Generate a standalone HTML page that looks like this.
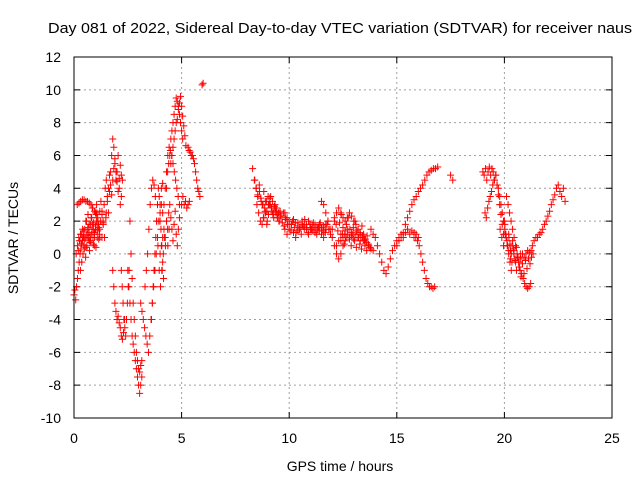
<!DOCTYPE html>
<html><head><meta charset="utf-8">
<style>
html,body{margin:0;padding:0;background:#fff;}
svg{display:block;font-family:"Liberation Sans",sans-serif;}
</style></head>
<body>
<svg id="chart" width="640" height="480" viewBox="0 0 640 480" xmlns="http://www.w3.org/2000/svg">
<rect x="0" y="0" width="640" height="480" fill="#fff"/>
<text x="340" y="33" font-size="14.5" text-anchor="middle" textLength="584" lengthAdjust="spacingAndGlyphs" fill="#000">Day 081 of 2022, Sidereal Day-to-day VTEC variation (SDTVAR) for receiver naus</text>
<text x="340" y="471" font-size="14" text-anchor="middle" fill="#000">GPS time / hours</text>
<text x="18" y="238" font-size="14" text-anchor="middle" fill="#000" transform="rotate(-90 18 238)">SDTVAR / TECUs</text>
<g id="grid"></g>
<g id="ticks"></g>
<g id="marks"></g>
<rect x="74" y="57" width="538" height="361" fill="none" stroke="#000" stroke-width="1"/>
</svg>
<script>
const xTicks=[0,5,10,15,20,25];
const yTicks=[-10,-8,-6,-4,-2,0,2,4,6,8,10,12];
const trackStart=[0.0,0.15,0.1,0.3,1.3,1.8,2.5,2.6,3.1,3.3,4.3,4.0,4.0,5.0,5.3,5.95,8.3,8.5,9.8,9.8,11.5,12.0,12.2,13.8,15.0,15.8,17.5,19.0,19.1,20.1,19.8,21.3,
 0.2,0.5,1.5,4.1,4.5,8.4,8.8,10.0,12.1,12.4,19.6,20.0,2.2,3.6];
const trackStep=[0.04,0.08,0.06,0.06,0.05,0.05,0.05,0.05,0.06,0.06,0.05,0.06,0.06,0.06,0.05,0.05,0.08,0.08,0.1,0.1,0.1,0.1,0.1,0.1,0.1,0.08,0.1,0.06,0.06,0.07,0.08,0.08,
 0.05,0.05,0.05,0.05,0.05,0.07,0.08,0.08,0.08,0.08,0.06,0.07,0.04,0.04];
const trackValues=[
[-2.5,-2.2,-2.8,-2.0,-1.5,-1.0,-0.5,0,0.3,0.6,0.8,1.0],
[3.0,3.1,3.2,3.3,3.3,3.2,3.2,3.1,3.0,2.8,2.6,2.4,2.0,1.5],
[0,0.5,1,0.8,1.2,1.5,0.5,1,2,1.5,0.8,1.8,2.2,1.0,0.5,1.5,2.5,1.8,1.2,2.0,2.6,1.8,1.0,2.2],
[-1,-0.5,0,0.3,-0.2,0.5,1,0.2,0.8,1.5,0.6,1.2,0.4,1,1.8,1.0],
[1,2,3,4,4.5,3.5,2.5,3.8,5,6,7,6.5,5.5,4.5,5,6,4,3,3.5,4.5],
[-1,-2,-3,-3.5,-4,-3.8,-4.2,-4.5,-5,-5.2,-4.8,-4],
[-1,-2,-3,-4,-5,-5.5,-6,-6.5,-7,-7.5,-8,-8.5,-8,-7.5],
[2,0,-1.5,-3,-4,-5,-6,-6.5,-7,-7.2,-6.8,-6.5],
[-3,-3.5,-4,-4.5,-5,-5.5,-6,-5,-4,-3,-2,-1,0,1,2,3,4,4.3],
[-2,-1,0,1.5,3,4,4.5,4.2,3.5,2,0.5,-1,-2,-1],
[4,5,5.5,6,7,7.5,8,8.5,9,9.5,9.3,9,8.5,8,7.5,7],
[2,3,2.5,3,4,5,6,6.5,6.3,6,5.5,5,4.5,4,3.5,3],
[0,0.5,1,1.5,1,2,0.5,1.5],
[3,3.5,3,3.2,2.8,3,3.2],
[6.5,6.3,6.2,6,6,5.8,5.5,5,4.5,4,3.8,3.5],
[10.3,10.4],
[5.2,4.5,4,3.5,3.8,3.2,3.0,2.8,3.2,3.5,3,2.8,2.5,3,2.8,2.5,2.6,2.3,2.5,2.2],
[3,2.5,2,1.8,2.2,2.5,2,3,3.5,3.2,2.8,2.5,2.2,2],
[2.5,2.2,2,1.8,2.1,1.9,1.7,1.6,1.8,1.5,1.8,2,1.6,1.4,1.7,1.5,1.8,1.6,1.4,1.8,2],
[1.5,1.2,1.5,1.8,1.3,1.0,1.4,1.6,2.0,1.7,1.5,1.2,1.5,1.8,1.3,1.6,1.4,1.2,1.0,1.5],
[3.2,3.0,2.5,2.0,1.5,1.0,0.5,0,-0.3,0,0.5,0.8],
[1.5,2,2.5,2.8,2.5,2.2,2.0,2.2,2.5,2.3,2.0,1.8,1.5,1.2,1.0,0.8],
[0.5,0.8,1.2,1.0,1.4,1.2,1.0,1.3,0.9,1.2,1.0,0.8,1.1,0.9,0.7,0.5,0.3,0.2],
[1.5,1.2,1.0,0.5,0,-0.5,-1.0,-1.2,-0.8,-0.3,0.2,0.5,0.8,1.0,1.2,1.0,1.3,1.5,1.2,1.4,1.3,1.2,1.0],
[0.5,0.8,1.0,1.3,1.8,2.2,2.6,3.0,3.3,3.5,3.8,4.0,4.2,4.5,4.8,5.0,5.1,5.2,5.2,5.3],
[1.0,1.0,0.8,0.5,0,-0.5,-1.0,-1.5,-1.8,-2.0,-2.0,-2.1,-2.0],
[4.8,4.5],
[5,4.8,5.2,4.5,5,5.3,4.8,5.2,5,4.5,4.8,4.2,4,3.5,3,2.5,2,1.5,1,0.5,0,-0.5,-1],
[2.5,2.2,2.8,3.2,3.5,3.8,4.2,4.5],
[3.5,3,2.5,2,1.5,1,0.5,0,-0.5,-1,-1.2,-1.5,-1.8,-2,-2.1,-2,-1.8],
[1.5,1.0,0.5,1.2,0.8,0.2,-0.3,0.5,0,-0.5,-0.2,-0.5,-0.3,0,-0.2,0,0.2,0.1,0.2],
[0.5,0.8,1.0,1.0,1.2,1.3,1.5,1.8,2,2.3,2.6,3,3.3,3.6,4,4.2,3.8,3.5,4,3.2],
[0.2,0.8,1.2,0.6,1.0,1.4,0.9,0.4,1.1,1.6,1.3,0.7,1.2,1.8,1.5,1.0,1.7,2.0,1.4,0.9],
[1.5,2.0,1.2,2.4,1.8,1.0,2.2,2.8,1.9,1.3,2.5,3.0,2.2,1.6,2.6,3.2,2.4,1.9],
[2.5,3.2,4.0,4.8,4.2,3.6,4.5,5.2,5.8,5.0,4.4,3.8,4.6,5.4,4.8],
[-1,0,1,0.5,2,1.5,2.5,3,2.2,1.5,0.8,1.8,2.6,1.2,0.5,1.5,2.2],
[5.5,6,6.5,7,7.5,8,8.2,8.8,9.2,9.6,9.0,8.4,7.8,7.2,6.6],
[4.5,4.0,3.6,4.2,3.4,3.0,3.8,3.2,2.6,3.0,3.4,2.8,2.4,2.9,2.6,2.2,2.5],
[2.2,2.6,1.8,2.4,3.0,2.6,2.2,2.8,2.4,2.0,2.3,1.9,1.7,2.1,1.8],
[1.8,1.4,2.0,1.6,1.3,1.9,1.5,1.2,1.7,2.1,1.6,1.3,1.8,1.5,1.9,1.4,1.2,1.6,1.9,1.4,1.7,1.3,1.8,1.5,1.2],
[2.2,1.8,1.4,1.9,2.4,1.6,1.2,1.8,2.2,1.5,1.1,1.6,2.0,1.4,1.0,1.3,1.7,1.2,0.9,1.1],
[0.8,1.2,0.6,1.0,1.5,0.9,0.5,1.2,0.8,0.4,1.0,0.6,0.3,0.8,0.5,0.2,0.6,0.4],
[4.8,4.2,3.6,3.0,2.4,1.8,1.2,1.8,1.0,0.5,1.2,0.6,0,0.8,0.2,-0.4,0.4,-0.2,-0.8,0],
[2.0,1.2,0.5,1.0,0.2,-0.5,0.3,-0.3,-1.0,-0.2,-0.8,-1.4,-0.6,-1.2,-0.4,-0.9,-0.3,-0.6,-0.2,0],
[-1,-2,-3,-4,-4.5,-5,-4,-3,-2,-1],
[-4,-3,-2,-1,0,1,2,3,4,3.5,2.5,1.5,0.5,-0.5,-1.5]
];
const X0=74,X1=612,Y0=418,Y1=57,xMin=0,xMax=25,yMin=-10,yMax=12;
function sx(v){return X0+(v-xMin)/(xMax-xMin)*(X1-X0);}
function sy(v){return Y0-(v-yMin)/(yMax-yMin)*(Y0-Y1);}
const NS="http://www.w3.org/2000/svg";
const grid=document.getElementById('grid'),ticks=document.getElementById('ticks'),marks=document.getElementById('marks');
function mk(tag,attrs,parent){const e=document.createElementNS(NS,tag);for(const k in attrs)e.setAttribute(k,attrs[k]);parent.appendChild(e);return e;}
xTicks.forEach(t=>{
  const x=sx(t);
  if(t>xMin&&t<xMax){const g=mk('line',{x1:x,x2:x,y1:Y1,y2:Y0,stroke:'#a0a0a0','stroke-dasharray':'2,3','stroke-width':1},grid);
  
  }
  const tk=mk('path',{d:`M${x} ${Y0}v-6M${x} ${Y1}v6`,stroke:'#000'},ticks);
  
  
  const lb=mk('text',{x:x,y:443,'font-size':14,'text-anchor':'middle',fill:'#000'},ticks);
  lb.textContent=t;
  
  
});
yTicks.forEach(t=>{
  const y=sy(t);
  if(t>yMin&&t<yMax){const g=mk('line',{x1:X0,x2:X1,y1:y,y2:y,stroke:'#a0a0a0','stroke-dasharray':'2,3','stroke-width':1},grid);
  
  }
  const tk=mk('path',{d:`M${X0} ${y}h6M${X1} ${y}h-6`,stroke:'#000'},ticks);
  
  
  const lb=mk('text',{x:61,y:y+5,'font-size':14,'text-anchor':'end',fill:'#000'},ticks);
  lb.textContent=t;
  
  
});
trackValues.forEach((vals,i)=>{
  vals.forEach((v,j)=>{
    const t=trackStart[i]+j*trackStep[i];
    const x=sx(t),y=sy(v);
    const p=mk('path',{d:`M${x-3.5} ${y}h7M${x} ${y-3.5}v7`,stroke:'#ff0000','stroke-width':1,fill:'none'},marks);
    
    
  });
});
</script>
</body></html>
